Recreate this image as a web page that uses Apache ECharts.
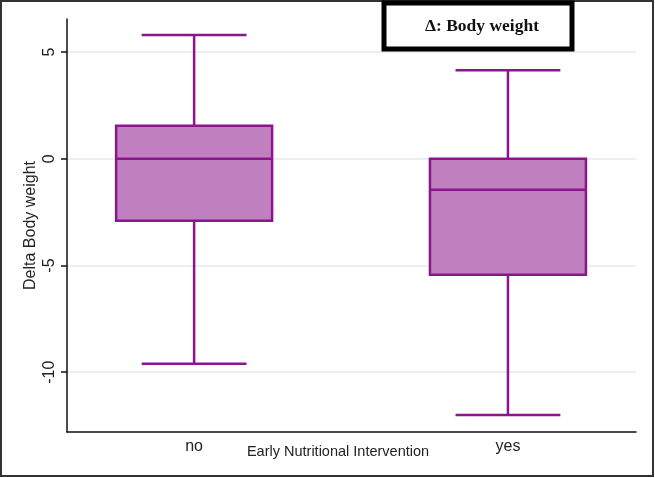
<!DOCTYPE html>
<html>
<head>
<meta charset="utf-8">
<script src="https://cdn.jsdelivr.net/npm/echarts@6/dist/echarts.min.js"></script>
<style>html,body{margin:0;padding:0;background:#fff}#c{width:655px;height:478px}</style>
</head>
<body>
<div id="c"></div>
<script>
var categories = ['no', 'yes'];
// [lower whisker, Q1, median, Q3, upper whisker]
var noBox = [-9.6, -2.9, 0.0, 1.55, 5.8];
var yesBox = [-12.0, -5.43, -1.45, 0.0, 4.15];
var yTicks = [-10, -5, 0, 5];
var titleText = '\u0394: Body weight';
var yName = 'Delta Body weight';
var xName = 'Early Nutritional Intervention';

var boxes = [noBox, yesBox];
var seriesData = boxes.map(function (b, i) { return [i + 1].concat(b); });
var xPositions = categories.map(function (c, i) { return i + 1; });

function renderItem(params, api) {
  var x = api.value(0);
  var pMin = api.coord([x, api.value(1)]);
  var pQ1 = api.coord([x, api.value(2)]);
  var pMed = api.coord([x, api.value(3)]);
  var pQ3 = api.coord([x, api.value(4)]);
  var pMax = api.coord([x, api.value(5)]);
  var halfBox = api.size([0.497, 0])[0] / 2;
  var halfCap = api.size([0.334, 0])[0] / 2;
  var cx = pMed[0];
  var stroke = '#8b168b';
  var lw = 2.5;
  var ls = { stroke: stroke, lineWidth: lw, fill: null };
  return {
    type: 'group',
    children: [
      { type: 'line', shape: { x1: cx, y1: pQ3[1], x2: cx, y2: pMax[1] }, style: ls },
      { type: 'line', shape: { x1: cx, y1: pQ1[1], x2: cx, y2: pMin[1] }, style: ls },
      { type: 'line', shape: { x1: cx - halfCap, y1: pMax[1], x2: cx + halfCap, y2: pMax[1] }, style: ls },
      { type: 'line', shape: { x1: cx - halfCap, y1: pMin[1], x2: cx + halfCap, y2: pMin[1] }, style: ls },
      { type: 'rect', shape: { x: cx - halfBox, y: pQ3[1], width: 2 * halfBox, height: pQ1[1] - pQ3[1] }, style: { fill: '#c080c0', stroke: stroke, lineWidth: lw } },
      { type: 'line', shape: { x1: cx - halfBox, y1: pMed[1], x2: cx + halfBox, y2: pMed[1] }, style: ls }
    ]
  };
}

var chart = echarts.init(document.getElementById('c'));
chart.setOption({
  animation: false,
  backgroundColor: '#fff',
  grid: { left: 67, right: 19, top: 19, bottom: 46, containLabel: false },
  xAxis: {
    type: 'value',
    min: 0.595,
    max: 2.408,
    name: xName,
    nameLocation: 'middle',
    nameGap: 12,
    nameMoveOverlap: false,
    nameTextStyle: { fontFamily: 'Liberation Sans, Arial', fontSize: 14.5, color: '#222', padding: [0, 27, 0, 0] },
    axisLine: { onZero: false, lineStyle: { color: '#111', width: 1.5 } },
    axisTick: { show: false },
    axisLabel: {
      fontFamily: 'Liberation Sans, Arial', fontSize: 16, color: '#222', margin: 7,
      customValues: xPositions,
      formatter: function (v) { return categories[Math.round(v) - 1] || ''; }
    },
    splitLine: { show: false }
  },
  yAxis: {
    type: 'value',
    min: -12.8,
    max: 6.55,
    name: yName,
    nameLocation: 'middle',
    nameGap: 28,
    nameMoveOverlap: false,
    nameTextStyle: { fontFamily: 'Liberation Sans, Arial', fontSize: 16, color: '#222' },
    axisLine: { show: true, onZero: false, lineStyle: { color: '#111', width: 1.5 } },
    axisTick: { show: true, length: 6, lineStyle: { color: '#111', width: 1.5 }, customValues: yTicks },
    axisLabel: { rotate: 90, fontFamily: 'Liberation Sans, Arial', fontSize: 16, color: '#222', margin: 9, customValues: yTicks },
    splitLine: { show: false }
  },
  series: [
    {
      type: 'custom',
      renderItem: renderItem,
      data: seriesData,
      encode: { x: 0, y: [1, 2, 3, 4, 5] },
      clip: false,
      z: 3,
      markLine: {
        silent: true,
        symbol: 'none',
        label: { show: false },
        z: 0,
        lineStyle: { color: '#eaf0f2', width: 2, type: 'solid' },
        data: yTicks.map(function (v) { return { yAxis: v }; })
      }
    }
  ],
  graphic: [
    { type: 'rect', shape: { x: 1, y: 1, width: 652, height: 475 }, style: { fill: null, stroke: '#333', lineWidth: 2 }, z: 100 },
    { type: 'rect', shape: { x: 384, y: 3, width: 188, height: 46 }, style: { fill: '#fff', stroke: '#000', lineWidth: 5 }, z: 101 },
    { type: 'text', x: 482, y: 26, style: { text: titleText, fontFamily: 'Liberation Serif, Times New Roman', fontWeight: 'bold', fontSize: 17.5, fill: '#111', align: 'center', verticalAlign: 'middle' }, z: 102 }
  ]
});
</script>
</body>
</html>
